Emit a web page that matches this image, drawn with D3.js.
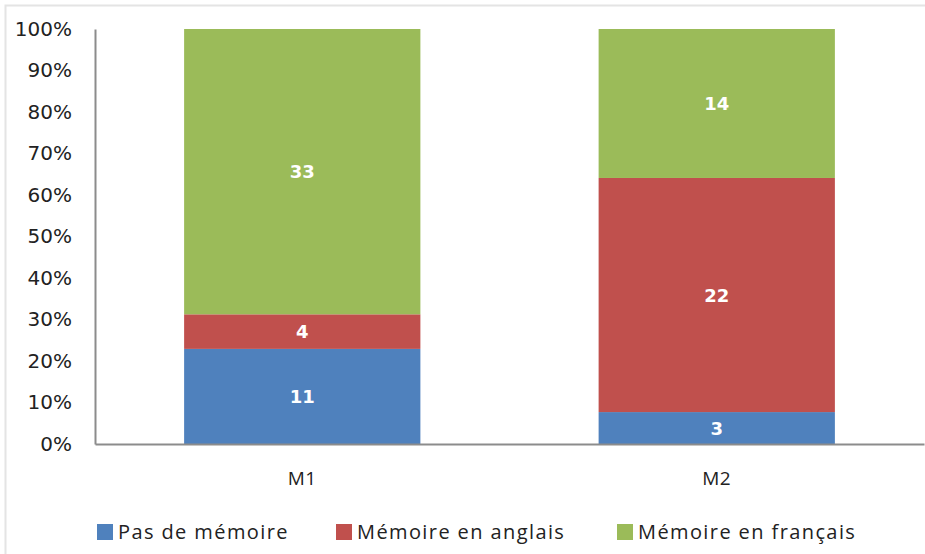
<!DOCTYPE html>
<html>
<head>
<meta charset="utf-8">
<script src="https://cdn.jsdelivr.net/npm/d3@7"></script>
<style>
	body { margin: 0; background: #fff; }
</style>
</head>
<body>
<script>
var categories = ["M1", "M2"];
var seriesNames = ["Pas de mémoire", "Mémoire en anglais", "Mémoire en français"];
var seriesColors = ["#4f81bd", "#c0504d", "#9bbb59"];
var pasDeMemoire = [11, 3];
var memoireAnglais = [4, 22];
var memoireFrancais = [33, 14];
var yTicks = [0, 0.1, 0.2, 0.3, 0.4, 0.5, 0.6, 0.7, 0.8, 0.9, 1];

var width = 925, height = 554;
var margin = {left: 95, right: 1, top: 29, bottom: 110};

var rows = categories.map(function(c, i) {
	var total = pasDeMemoire[i] + memoireAnglais[i] + memoireFrancais[i];
	return {cat: c, vals: [pasDeMemoire[i], memoireAnglais[i], memoireFrancais[i]], total: total};
});

var svg = d3.select("body").append("svg")
	.attr("width", width)
	.attr("height", height);

// light frame like the screenshot
svg.append("rect")
	.attr("x", 5.5).attr("y", 5.5)
	.attr("width", width).attr("height", height)
	.style("fill", "none")
	.style("stroke", "#e4e4e4")
	.style("stroke-width", 2);

var x = d3.scaleBand()
	.domain(categories)
	.range([margin.left, width - margin.right])
	.paddingInner(0.43)
	.paddingOuter(0.215);

var y = d3.scaleLinear()
	.domain([0, 1])
	.range([height - margin.bottom, margin.top]);

var stackData = rows.map(function(r) {
	var o = {cat: r.cat};
	r.vals.forEach(function(v, k) { o[k] = v / r.total; o["n" + k] = v; });
	return o;
});

var layers = d3.stack().keys([0, 1, 2])(stackData);

var g = svg.append("g");

layers.forEach(function(layer, k) {
	g.selectAll(".bar" + k)
		.data(layer)
		.enter().append("rect")
		.attr("x", function(d) { return x(d.data.cat); })
		.attr("y", function(d) { return y(d[1]); })
		.attr("width", x.bandwidth())
		.attr("height", function(d) { return y(d[0]) - y(d[1]); })
		.style("fill", seriesColors[k]);

	g.selectAll(".lab" + k)
		.data(layer)
		.enter().append("text")
		.attr("x", function(d) { return x(d.data.cat) + x.bandwidth() / 2; })
		.attr("y", function(d) { return (y(d[0]) + y(d[1])) / 2; })
		.attr("dy", "0.38em")
		.attr("text-anchor", "middle")
			.style("font-family", "'DejaVu Sans', Verdana, sans-serif")
			.style("font-size", "18px")
			.style("font-weight", "bold")
			.style("fill", "#fff")
		.text(function(d) { return d.data["n" + k]; });
});

// y axis
var yAxis = svg.append("g")
	.attr("transform", "translate(" + margin.left + ",0)")
	.call(d3.axisLeft(y).tickValues(yTicks).tickSize(0).tickPadding(23)
		.tickFormat(function(d) { return Math.round(d * 100) + "%"; }));
yAxis.select(".domain").style("stroke", "#8c8c8c").style("stroke-width", 2);
yAxis.selectAll("text")
	.style("font-family", "'DejaVu Sans', Verdana, sans-serif")
	.style("font-size", "20px")
	.style("fill", "#222");

// x axis
var xAxis = svg.append("g")
	.attr("transform", "translate(0," + y(0) + ")")
	.call(d3.axisBottom(x).tickSize(0).tickPadding(28));
xAxis.select(".domain").style("stroke", "#8c8c8c").style("stroke-width", 2);
xAxis.selectAll("text")
	.style("font-family", "'Open Sans', sans-serif")
	.style("font-size", "19px")
	.style("letter-spacing", "0.5px")
	.style("fill", "#222");

// legend
var legendX = [97, 336, 617];
var legend = svg.append("g");
seriesNames.forEach(function(name, k) {
	legend.append("rect")
		.attr("x", legendX[k]).attr("y", 524)
		.attr("width", 16).attr("height", 16)
		.style("fill", seriesColors[k]);
	legend.append("text")
		.attr("x", legendX[k] + 21).attr("y", 539)
		.style("font-family", "'Open Sans', sans-serif")
		.style("font-size", "20px")
		.style("letter-spacing", "1.4px")
		.style("fill", "#222")
		.text(name);
});
</script>
</body>
</html>
